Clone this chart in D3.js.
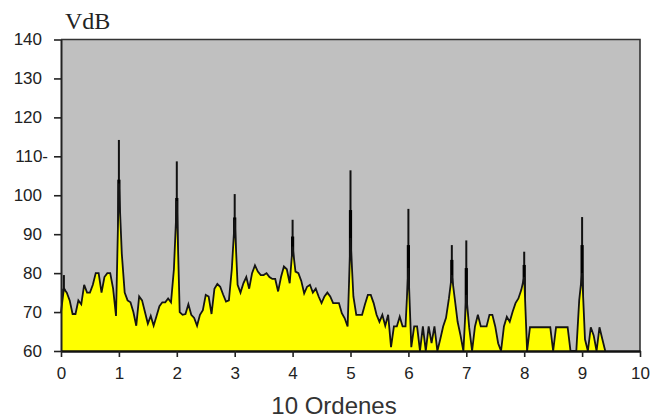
<!DOCTYPE html>
<html>
<head>
<meta charset="utf-8">
<script src="https://cdn.jsdelivr.net/npm/d3@7"></script>
<style>
  body { margin: 0; background: #ffffff; }
  svg { display: block; }
</style>
</head>
<body>
<svg id="chart" width="650" height="419"></svg>
<script>
// Order spectrum, level in VdB sampled every 0.05 order (0.00 .. 9.40)
const orderStep = 0.05;
const levels = [
  70, 76, 75, 73, 69.5, 69.5, 73, 72, 77, 75, 75, 77, 80, 80, 75, 79, 80, 80, 76, 69,
  103, 85, 75, 73, 72.5, 70, 66.5, 74, 73, 70, 67, 69, 66.5, 69, 71.5, 72.5, 72.5, 73.5, 72.5, 81,
  98.5, 70, 69.3, 69.5, 72, 69.3, 68.5, 66.5, 69.3, 70.5, 74.4, 74, 69.5, 76, 77.2, 76.5, 74.5, 72.7, 73, 81,
  93.7, 77, 75, 77.4, 79, 76, 80, 82, 80.4, 79.5, 79.5, 80, 79, 78.5, 78.5, 75.3, 79, 81.7, 81, 77.4,
  86.8, 80.4, 80, 78, 74.8, 76.5, 77, 75, 76, 74, 72.3, 74, 75, 74, 72.3, 72.3, 72.3, 69.7, 68.4, 66.3,
  89, 74, 69.3, 69.3, 69.3, 72, 74.4, 74.4, 72.3, 69.3, 67.5, 69.3, 66.5, 69.3, 61, 66.3, 66.3, 68.8, 66.3, 66.3,
  81.3, 61, 66.3, 66.3, 60, 66.3, 60, 66.3, 62, 66.3, 60, 63, 66.3, 68.5, 73.5, 79.5, 73.5, 67.5, 64, 60,
  74.4, 66, 60, 66.3, 69.3, 66.3, 66.3, 66.3, 69.3, 69.3, 66.3, 62, 60, 66.3, 68.8, 67.5, 70.1, 72.3, 73.5, 75.7,
  79, 60, 66.1, 66.1, 66.1, 66.1, 66.1, 66.1, 66.1, 66.1, 60, 66.1, 66.1, 66.1, 66.1, 66.1, 60, 60, 60, 73,
  80, 63, 60, 66.1, 64, 60, 66.1, 63, 60
];

// Narrow peak spikes: order, peak top and the width-filled peak body (VdB)
const spikeOrders = [0.05, 1, 2, 3, 4, 5, 6, 6.75, 7, 8, 9];
const spikeTops   = [79.5, 114.2, 108.7, 100.3, 93.7, 106.4, 96.5, 87.2, 88.4, 85.5, 94.4];
const spikeBodies = [76, 104, 99.3, 94.3, 89.4, 96.2, 87.2, 83.4, 81.3, 82.1, 87.2];

const yTicks = [60, 70, 80, 90, 100, 110, 120, 130, 140];
const yTickLabels = ["60", "70", "80", "90", "100", "110-", "120", "130", "140"];
const xTicks = [0, 1, 2, 3, 4, 5, 6, 7, 8, 9, 10];
const xTickLabels = ["0", "1", "2", "3", "4", "5", "6", "7", "8", "9", "10"];

const svg = d3.select("#chart");

const x = d3.scaleLinear().domain([0, 10]).range([61, 640]);
const y = d3.scaleLinear().domain([60, 140]).range([351, 39.5]);

// plot background
svg.append("rect")
  .attr("x", x(0)).attr("y", y(140))
  .attr("width", x(10) - x(0)).attr("height", y(60) - y(140))
  .attr("fill", "#c0c0c0");

const points = levels.map((v, i) => ({ o: i * orderStep, v }));

// peak spikes (drawn beneath the level area)
const spikes = spikeOrders.map((o, i) => ({ o, top: spikeTops[i], body: spikeBodies[i] }));
const gSpikes = svg.append("g");
gSpikes.selectAll("line").data(spikes).join("line")
  .attr("x1", d => x(d.o)).attr("x2", d => x(d.o))
  .attr("y1", y(60)).attr("y2", d => y(d.top))
  .attr("stroke", "#111").attr("stroke-width", 2);
gSpikes.selectAll("rect").data(spikes).join("rect")
  .attr("x", d => x(d.o) - 1.6).attr("width", 3.2)
  .attr("y", d => y(d.body)).attr("height", d => y(60) - y(d.body))
  .attr("fill", "#000");

// level area
svg.append("path")
  .datum(points)
  .attr("d", d3.area().x(d => x(d.o)).y0(y(60)).y1(d => y(d.v)))
  .attr("fill", "#ffff00");

svg.append("path")
  .datum(points)
  .attr("d", d3.line().x(d => x(d.o)).y(d => y(d.v)))
  .attr("fill", "none")
  .attr("stroke", "#141414")
  .attr("stroke-width", 1.8)
  .attr("stroke-linejoin", "miter");

// frame: top and right edges
svg.append("path")
  .attr("d", `M${x(0)},${y(140)}H${x(10)}V${y(60)}`)
  .attr("fill", "none").attr("stroke", "#333").attr("stroke-width", 1.6);

const tickFont = "'Liberation Sans', Arial, sans-serif";

// y axis
const gy = svg.append("g")
  .attr("transform", `translate(${x(0)},0)`)
  .call(d3.axisLeft(y).tickValues(yTicks)
    .tickFormat((d, i) => yTickLabels[i])
    .tickSize(7).tickSizeOuter(0).tickPadding(12));
gy.select(".domain").attr("stroke", "#222").attr("stroke-width", 2);
gy.selectAll(".tick line").attr("stroke", "#222").attr("stroke-width", 1.6);
gy.selectAll(".tick text")
  .attr("font-family", tickFont).attr("font-size", 17).attr("fill", "#222")
  .attr("dx", (d, i) => yTickLabels[i].endsWith("-") ? 6 : 0);

// x axis
const gx = svg.append("g")
  .attr("transform", `translate(0,${y(60)})`)
  .call(d3.axisBottom(x).tickValues(xTicks)
    .tickFormat((d, i) => xTickLabels[i])
    .tickSize(6).tickSizeOuter(0).tickPadding(10));
gx.select(".domain").attr("stroke", "#111").attr("stroke-width", 2.4);
gx.selectAll(".tick line").attr("stroke", "#222").attr("stroke-width", 1.6);
gx.selectAll(".tick text")
  .attr("font-family", tickFont).attr("font-size", 17).attr("fill", "#222");

// axis titles
svg.append("text")
  .attr("x", 65).attr("y", 29)
  .attr("font-family", "'Liberation Serif', 'Times New Roman', serif")
  .attr("font-size", 24).attr("fill", "#222")
  .text("VdB");

svg.append("text")
  .attr("x", 334).attr("y", 414)
  .attr("text-anchor", "middle")
  .attr("font-family", tickFont)
  .attr("font-size", 24).attr("fill", "#333")
  .text("10 Ordenes");
</script>
</body>
</html>
